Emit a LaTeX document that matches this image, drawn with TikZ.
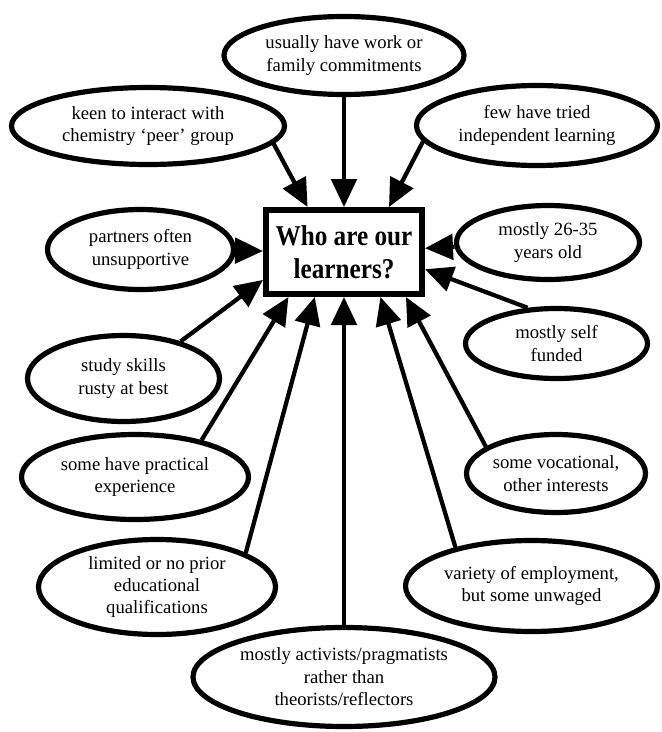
\documentclass[tikz,border=0pt]{standalone}
\usepackage{fontspec}
\setmainfont{Liberation Serif}
\newfontfamily\hubfont[FakeStretch=0.88]{Liberation Serif}
\usetikzlibrary{shapes.geometric,arrows.meta}
\begin{document}
\begin{tikzpicture}[x=0.75pt,y=-0.75pt,
  bub/.style={draw,ellipse,line width=3.9pt,inner sep=0pt,align=center,
    font=\fontsize{14pt}{16.8pt}\selectfont},
  hub/.style={draw,rectangle,line width=4.5pt,inner sep=0pt,align=center,
    font=\hubfont\fontsize{21.5pt}{25pt}\selectfont\bfseries},
  conn/.style={line width=3.2pt,-{Triangle[length=21pt,width=19pt]}}]
\useasboundingbox (0,0) rectangle (661,732);
\node[hub,minimum width=117pt,minimum height=63pt] (box) at (344,252) {Who are our\\learners?};
\node[bub,minimum width=180pt,minimum height=58.5pt] (ntop) at (344,55.5) {usually have work or\\family commitments};
\node[bub,minimum width=204.75pt,minimum height=57.75pt] (keen) at (148,126) {keen to interact with\\chemistry ‘peer’ group};
\node[bub,minimum width=180.75pt,minimum height=60pt] (few) at (537,125.5) {few have tried\\independent learning};
\node[bub,minimum width=139.5pt,minimum height=60pt] (partners) at (140.5,249.5) {partners often\\unsupportive};
\node[bub,minimum width=137.25pt,minimum height=55.5pt] (age) at (548,242.5) {mostly 26-35\\years old};
\node[bub,minimum width=136.5pt,minimum height=52.5pt] (self) at (556.5,343.5) {mostly self\\funded};
\node[bub,minimum width=144pt,minimum height=64.5pt] (study) at (123.5,378.5) {study skills\\rusty at best};
\node[bub,minimum width=170.25pt,minimum height=63.75pt] (practical) at (135,477) {some have practical\\experience};
\node[bub,minimum width=134.25pt,minimum height=58.5pt] (vocational) at (556,473.5) {some vocational,\\other interests};
\node[bub,minimum width=177.75pt,minimum height=71.25pt] (limited) at (157,587) {limited or no prior\\educational\\qualifications};
\node[bub,minimum width=189pt,minimum height=68.25pt] (variety) at (531.5,586) {variety of employment,\\but some unwaged};
\node[bub,minimum width=226.5pt,minimum height=74.25pt] (act) at (344,677) {mostly activists/pragmatists\\rather than\\theorists/reflectors};
\draw[conn] (ntop) -- (box);
\draw[conn] (keen.-8.4) -- (box.129.4);
\draw[conn] (few.-172.9) -- (box.45.6);
\draw[conn] (partners) -- (box);
\draw[conn] (age) -- (box);
\draw[conn] (self.129.7) -- (box.-12.5);
\draw[conn] (study.33.4) -- (box.199.1);
\draw[conn] (practical.29.4) -- (box.219.8);
\draw[conn] (limited.21.1) -- (box.237.2);
\draw[conn] (act) -- (box);
\draw[conn] (variety.153.8) -- (box.-51.3);
\draw[conn] (vocational.159.4) -- (box.-36.4);
\end{tikzpicture}
\end{document}
